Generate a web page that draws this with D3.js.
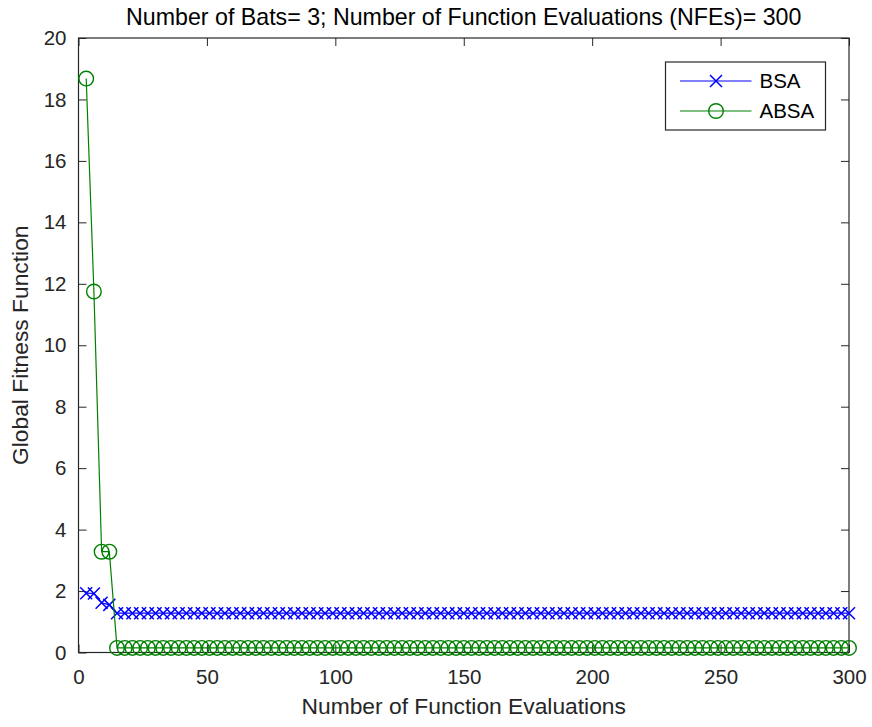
<!DOCTYPE html>
<html>
<head>
<meta charset="utf-8">
<script src="https://cdn.jsdelivr.net/npm/d3@7"></script>
<style>
  html, body { margin: 0; padding: 0; background: #fff; }
  svg { display: block; font-family: "Liberation Sans", Arial, Helvetica, sans-serif; }
</style>
</head>
<body>
<svg id="chart" width="872" height="727"></svg>
<script>
// Function-evaluation counts at which the best fitness was recorded (3 bats per iteration)
const evaluations = [
  3, 6, 9, 12, 15, 18, 21, 24, 27, 30, 33, 36, 39, 42, 45, 48, 51, 54, 57, 60,
  63, 66, 69, 72, 75, 78, 81, 84, 87, 90, 93, 96, 99, 102, 105, 108, 111, 114, 117, 120,
  123, 126, 129, 132, 135, 138, 141, 144, 147, 150, 153, 156, 159, 162, 165, 168, 171, 174, 177, 180,
  183, 186, 189, 192, 195, 198, 201, 204, 207, 210, 213, 216, 219, 222, 225, 228, 231, 234, 237, 240,
  243, 246, 249, 252, 255, 258, 261, 264, 267, 270, 273, 276, 279, 282, 285, 288, 291, 294, 297, 300
];

// Best global fitness per iteration, BSA
const bsaFitness = [
  1.93, 1.92, 1.62, 1.55, 1.28, 1.28, 1.28, 1.28, 1.28, 1.28, 1.28, 1.28, 1.28, 1.28, 1.28, 1.28, 1.28, 1.28, 1.28, 1.28,
  1.28, 1.28, 1.28, 1.28, 1.28, 1.28, 1.28, 1.28, 1.28, 1.28, 1.28, 1.28, 1.28, 1.28, 1.28, 1.28, 1.28, 1.28, 1.28, 1.28,
  1.28, 1.28, 1.28, 1.28, 1.28, 1.28, 1.28, 1.28, 1.28, 1.28, 1.28, 1.28, 1.28, 1.28, 1.28, 1.28, 1.28, 1.28, 1.28, 1.28,
  1.28, 1.28, 1.28, 1.28, 1.28, 1.28, 1.28, 1.28, 1.28, 1.28, 1.28, 1.28, 1.28, 1.28, 1.28, 1.28, 1.28, 1.28, 1.28, 1.28,
  1.28, 1.28, 1.28, 1.28, 1.28, 1.28, 1.28, 1.28, 1.28, 1.28, 1.28, 1.28, 1.28, 1.28, 1.28, 1.28, 1.28, 1.28, 1.28, 1.28
];

// Best global fitness per iteration, ABSA
const absaFitness = [
  18.68, 11.75, 3.28, 3.28, 0.15, 0.15, 0.15, 0.15, 0.15, 0.15, 0.15, 0.15, 0.15, 0.15, 0.15, 0.15, 0.15, 0.15, 0.15, 0.15,
  0.15, 0.15, 0.15, 0.15, 0.15, 0.15, 0.15, 0.15, 0.15, 0.15, 0.15, 0.15, 0.15, 0.15, 0.15, 0.15, 0.15, 0.15, 0.15, 0.15,
  0.15, 0.15, 0.15, 0.15, 0.15, 0.15, 0.15, 0.15, 0.15, 0.15, 0.15, 0.15, 0.15, 0.15, 0.15, 0.15, 0.15, 0.15, 0.15, 0.15,
  0.15, 0.15, 0.15, 0.15, 0.15, 0.15, 0.15, 0.15, 0.15, 0.15, 0.15, 0.15, 0.15, 0.15, 0.15, 0.15, 0.15, 0.15, 0.15, 0.15,
  0.15, 0.15, 0.15, 0.15, 0.15, 0.15, 0.15, 0.15, 0.15, 0.15, 0.15, 0.15, 0.15, 0.15, 0.15, 0.15, 0.15, 0.15, 0.15, 0.15
];

const xTicks = [0, 50, 100, 150, 200, 250, 300];
const yTicks = [0, 2, 4, 6, 8, 10, 12, 14, 16, 18, 20];
const seriesNames = ["BSA", "ABSA"];

const titleText = "Number of Bats= 3; Number of Function Evaluations (NFEs)= 300";
const xLabelText = "Number of Function Evaluations";
const yLabelText = "Global Fitness Function";

const svg = d3.select("#chart");
const margin = { left: 78.5, right: 872 - 849, top: 38, bottom: 727 - 652.5 };
const W = 872 - margin.left - margin.right;
const H = 727 - margin.top - margin.bottom;
const axisColor = "#262626";
const tickLen = 8;
const tickFont = "20.5px";
const labelFont = "22.8px";
const titleFont = "23.2px";

const x = d3.scaleLinear().domain([0, 300]).range([0, W]);
const y = d3.scaleLinear().domain([0, 20]).range([H, 0]);

const g = svg.append("g").attr("transform", `translate(${margin.left},${margin.top})`);

// Axes: ticks point inward on all four sides, boxed plot area
function styleAxis(sel, hideLabels) {
  sel.select(".domain").remove();
  sel.selectAll(".tick line").attr("stroke", axisColor).attr("stroke-width", 1);
  if (hideLabels) {
    sel.selectAll(".tick text").remove();
  } else {
    sel.selectAll(".tick text")
      .attr("fill", axisColor)
      .style("font-size", tickFont)
      .style("font-family", "'Liberation Sans', Arial, sans-serif");
  }
}

g.append("g").attr("transform", `translate(0,${H})`)
  .call(d3.axisBottom(x).tickValues(xTicks).tickSize(-tickLen).tickPadding(17).tickFormat(d3.format("d")))
  .call(s => styleAxis(s, false));
g.append("g")
  .call(d3.axisTop(x).tickValues(xTicks).tickSize(-tickLen))
  .call(s => styleAxis(s, true));
g.append("g")
  .call(d3.axisLeft(y).tickValues(yTicks).tickSize(-tickLen).tickPadding(12).tickFormat(d3.format("d")))
  .call(s => styleAxis(s, false));
g.append("g").attr("transform", `translate(${W},0)`)
  .call(d3.axisRight(y).tickValues(yTicks).tickSize(-tickLen))
  .call(s => styleAxis(s, true));

g.append("rect")
  .attr("x", 0).attr("y", 0).attr("width", W).attr("height", H)
  .attr("fill", "none").attr("stroke", axisColor).attr("stroke-width", 1.2);

// Series
const series = [
  { name: seriesNames[0], values: bsaFitness, color: "#0000ff", marker: "cross" },
  { name: seriesNames[1], values: absaFitness, color: "#008000", marker: "circle" }
];

const line = d3.line().x(d => x(d[0])).y(d => y(d[1]));

function drawMarker(sel, type, color) {
  if (type === "circle") {
    sel.append("circle").attr("r", 7.3)
      .attr("fill", "none").attr("stroke", color).attr("stroke-width", 1.4);
  } else {
    const s = 6;
    sel.append("path").attr("d", `M${-s},${-s}L${s},${s}M${-s},${s}L${s},${-s}`)
      .attr("fill", "none").attr("stroke", color).attr("stroke-width", 1.5);
  }
}

series.forEach(s => {
  const pts = evaluations.map((e, i) => [e, s.values[i]]);
  g.append("path").datum(pts)
    .attr("d", line)
    .attr("fill", "none").attr("stroke", s.color).attr("stroke-width", 1.2);
  g.append("g").selectAll("g").data(pts).join("g")
    .attr("transform", d => `translate(${x(d[0])},${y(d[1])})`)
    .each(function () { drawMarker(d3.select(this), s.marker, s.color); });
});

// Legend
const legend = svg.append("g").attr("transform", "translate(665.5,62)");
legend.append("rect").attr("width", 160).attr("height", 68)
  .attr("fill", "#fff").attr("stroke", axisColor).attr("stroke-width", 1.2);
series.forEach((s, i) => {
  const row = legend.append("g").attr("transform", `translate(0,${19 + i * 30})`);
  row.append("line").attr("x1", 14.5).attr("x2", 86).attr("y1", 0).attr("y2", 0)
    .attr("stroke", s.color).attr("stroke-width", 1.2);
  const m = row.append("g").attr("transform", "translate(50.5,0)");
  drawMarker(m, s.marker, s.color);
  row.append("text").attr("x", 94).attr("y", 0).attr("dy", "0.35em")
    .attr("fill", "#000").style("font-size", tickFont).text(s.name);
});

// Title and axis labels
svg.append("text").attr("x", margin.left + W / 2).attr("y", 25)
  .attr("text-anchor", "middle").attr("fill", "#000").style("font-size", titleFont)
  .text(titleText);
svg.append("text").attr("x", margin.left + W / 2).attr("y", 714)
  .attr("text-anchor", "middle").attr("fill", axisColor).style("font-size", labelFont)
  .text(xLabelText);
svg.append("text").attr("transform", `translate(28,${margin.top + H / 2}) rotate(-90)`)
  .attr("text-anchor", "middle").attr("fill", axisColor).style("font-size", labelFont)
  .text(yLabelText);
</script>
</body>
</html>
